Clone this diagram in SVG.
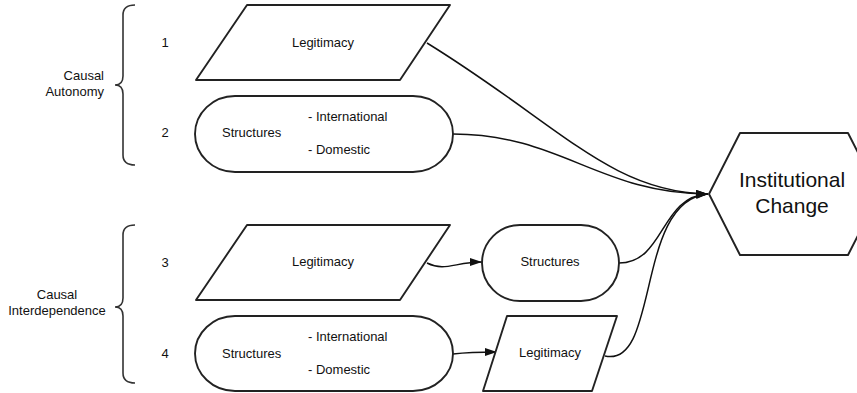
<svg xmlns="http://www.w3.org/2000/svg" width="857" height="393" viewBox="0 0 857 393">
<style>
.shape{fill:#fff;stroke:#222;stroke-width:1.9;stroke-linejoin:round}
.brace{fill:none;stroke:#333;stroke-width:1.6}
.conn{fill:none;stroke:#111;stroke-width:1.5}
text{font-family:"Liberation Sans",Arial,sans-serif;font-size:13px;fill:#111}
.mid{text-anchor:middle}
.big{font-size:21px}
</style>
<defs>
<marker id="arr" viewBox="0 0 12 8" refX="12" refY="4" markerWidth="12" markerHeight="8" markerUnits="userSpaceOnUse" orient="auto">
<path d="M0,0 L12,4 L0,8 Z" fill="#111"/>
</marker>
</defs>

<g id="brace1">
<path class="brace" d="M135,5 Q123,5 123,15 L123,76 Q123,85 115,85 Q123,85 123,94 L123,155 Q123,165 135,165"/>
<text x="104" y="80" text-anchor="end">Causal</text>
<text x="104" y="96" text-anchor="end">Autonomy</text>
</g>
<g id="brace2">
<path class="brace" d="M135,225 Q123,225 123,235 L123,298 Q123,307 115,307 Q123,307 123,316 L123,373 Q123,383 135,383"/>
<text x="57" y="299" class="mid">Causal</text>
<text x="57" y="315" class="mid">Interdependence</text>
</g>

<g id="labels">
<text x="165" y="47" class="mid">1</text>
<text x="165" y="137" class="mid">2</text>
<text x="165" y="267" class="mid">3</text>
<text x="165" y="358" class="mid">4</text>
</g>

<g id="connectors">
<path class="conn" d="M427,43 C560,125 610,192 708,194" marker-end="url(#arr)"/>
<path class="conn" d="M453,134 C560,134 600,194 708,194" marker-end="url(#arr)"/>
<path class="conn" d="M619,263 C665,263 660,196 708,194" marker-end="url(#arr)"/>
<path class="conn" d="M605,356 C660,368 635,200 708,194" marker-end="url(#arr)"/>
<path class="conn" d="M427,263 C445,272 455,262 482,262" marker-end="url(#arr)"/>
<path class="conn" d="M453,354 C470,352 480,352 497,352" marker-end="url(#arr)"/>
</g>

<g id="n1">
<path class="shape" d="M247,5 L450,5 L400,80 L196,80 Z"/>
<text x="323" y="47" class="mid">Legitimacy</text>
</g>
<g id="n2">
<rect class="shape" x="195" y="96" width="258" height="76" rx="40" ry="38"/>
<text x="222" y="137">Structures</text>
<text x="308" y="121">- International</text>
<text x="308" y="154">- Domestic</text>
</g>
<g id="n3">
<path class="shape" d="M247,225 L450,225 L400,300 L196,300 Z"/>
<text x="323" y="266" class="mid">Legitimacy</text>
</g>
<g id="n4">
<rect class="shape" x="195" y="316" width="258" height="75" rx="40" ry="37.5"/>
<text x="222" y="358">Structures</text>
<text x="308" y="341">- International</text>
<text x="308" y="374">- Domestic</text>
</g>
<g id="n5">
<rect class="shape" x="482" y="225" width="137" height="76" rx="38" ry="38"/>
<text x="550" y="266" class="mid">Structures</text>
</g>
<g id="n6">
<path class="shape" d="M507,316 L617,316 L592,391 L483,391 Z"/>
<text x="550" y="357" class="mid">Legitimacy</text>
</g>
<g id="n7">
<path class="shape" d="M709,194 L740,133 L848,133 L879,194 L848,255 L740,255 Z"/>
<text x="792" y="187" class="mid big">Institutional</text>
<text x="792" y="213" class="mid big">Change</text>
</g>
</svg>
